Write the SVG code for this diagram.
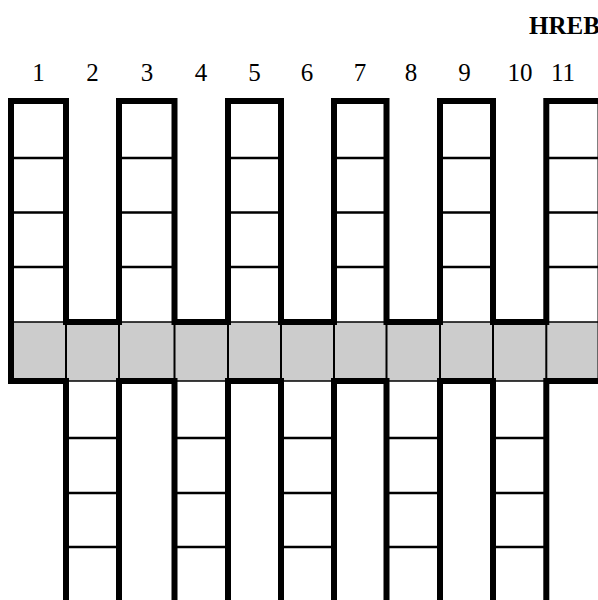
<svg xmlns="http://www.w3.org/2000/svg" width="598" height="600" viewBox="0 0 598 600">
<style>
.num{font-family:"Liberation Serif","Times New Roman",serif;font-size:25px;text-anchor:middle;fill:#000}
.title{font-family:"Liberation Serif","Times New Roman",serif;font-size:25px;font-weight:bold;fill:#000}
.thick{fill:none;stroke:#000;stroke-width:6;stroke-linejoin:miter;stroke-linecap:square}
.thin{fill:none;stroke:#000;stroke-width:2.5}
.sep{fill:none;stroke:#000;stroke-width:2}
</style>
<rect width="598" height="600" fill="#fff"/>
<text class="title" x="529" y="34">HREB</text>
<g id="labels">
<text class="num" x="38.5" y="81">1</text>
<text class="num" x="92.5" y="81">2</text>
<text class="num" x="147" y="81">3</text>
<text class="num" x="201" y="81">4</text>
<text class="num" x="254.5" y="81">5</text>
<text class="num" x="307" y="81">6</text>
<text class="num" x="360" y="81">7</text>
<text class="num" x="411" y="81">8</text>
<text class="num" x="464.5" y="81">9</text>
<text class="num" x="520" y="81">10</text>
<text class="num" x="563" y="81">11</text>
</g>
<g id="band">
<rect x="11" y="322" width="592" height="59" fill="#cccccc" stroke="#000" stroke-width="1.5"/>
<path class="sep" d="M66 322V381M119 322V381M174.5 322V381M228 322V381M281 322V381M334 322V381M386.5 322V381M440 322V381M493 322V381M546.3 322V381"/>
</g>
<g id="upper-cells">
<path class="thin" d="M11 158H66M11 212.5H66M11 267H66
M119 158H174.5M119 212.5H174.5M119 267H174.5
M228 158H281M228 212.5H281M228 267H281
M334 158H386.5M334 212.5H386.5M334 267H386.5
M440 158H493M440 212.5H493M440 267H493
M546.3 158H600M546.3 212.5H600M546.3 267H600"/>
</g>
<g id="lower-cells">
<path class="thin" d="M66 438H119M66 493H119M66 547H119
M174.5 438H228M174.5 493H228M174.5 547H228
M281 438H334M281 493H334M281 547H334
M386.5 438H440M386.5 493H440M386.5 547H440
M493 438H546.3M493 493H546.3M493 547H546.3"/>
</g>
<g id="walls">
<path class="thick" d="M11 381V101H66V322H119V101H174.5V322H228V101H281V322H334V101H386.5V322H440V101H493V322H546.3V101H600.5V381"/>
<path class="thick" d="M11 381H66V603M119 603V381H174.5V603M228 603V381H281V603M334 603V381H386.5V603M440 603V381H493V603M546.3 603V381H600.5"/>
</g>
</svg>
